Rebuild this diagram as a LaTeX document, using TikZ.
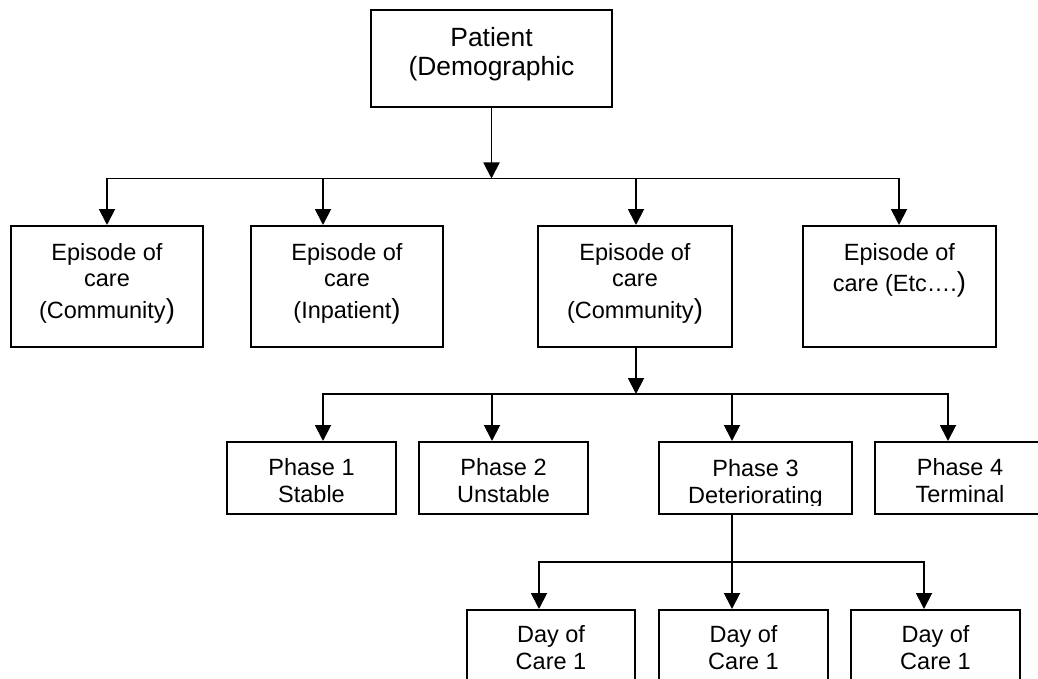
\documentclass[tikz,border=0pt]{standalone}
\usepackage{fontspec}
\setmainfont{Liberation Sans}
\usetikzlibrary{arrows.meta}
\newcommand\bigparen{{\fontsize{27.5}{27}\selectfont )}}
\newcommand\topr[1]{\rule{0pt}{#1}}
\newcommand\botr[1]{\rule[-#1]{0pt}{#1}}
\begin{document}
\begin{tikzpicture}[x=1pt,y=-1pt,
  box/.style={draw, line width=2pt, inner sep=0pt, align=center,
              font=\fontsize{23.5}{27}\selectfont},
  epbox/.style={box, minimum height=121pt},
  phbox/.style={box, minimum height=72pt},
  arr/.style={line width=1.9pt, -{Triangle[length=16pt,width=16pt]}}]
\clip (0,0) rectangle (1038,679);
\fill[white] (0,0) rectangle (1038,679);

% top
\node[box, minimum width=241pt, minimum height=97pt,
      font=\fontsize{26.4}{29}\selectfont] (pat) at (491.5,58.5)
  {\topr{19.5pt}Patient\\(Demographic\botr{13.5pt}};

% episodes
\node[epbox, minimum width=192pt] (e1) at (107,286.5)
  {\topr{18pt}Episode of\\[-1pt]care\\[5pt](Community\bigparen\botr{13pt}};
\node[epbox, minimum width=192pt] (e2) at (347,286.5)
  {\topr{18pt}Episode of\\[-1pt]care\\[5pt](Inpatient\bigparen\botr{13pt}};
\node[epbox, minimum width=194pt] (e3) at (635,286.5)
  {\topr{18pt}Episode of\\[-1pt]care\\[5pt](Community\bigparen\botr{13pt}};
\node[epbox, minimum width=193pt] (e4) at (899.5,286.5)
  {\topr{18pt}Episode of\\[4pt]care (Etc….\bigparen\\\botr{13pt}};

% phases
\node[phbox, minimum width=169pt] (p1) at (311.5,478) {\topr{23pt}Phase 1\\Stable};
\node[phbox, minimum width=169pt] (p2) at (503.5,478) {\topr{23pt}Phase 2\\Unstable};
\node[phbox, minimum width=193pt] (p3) at (755.5,478)
  {\topr{23pt}Phase 3\\\raisebox{0pt}[\height][0pt]{Deteriorating}};
\node[phbox, minimum width=170pt] (p4) at (960,478) {\topr{23pt}Phase 4\\Terminal};
% the descender of the g is cut off in the original
\fill[white] ([xshift=40pt]p3.center |- 0,506) rectangle ([xshift=80pt]p3.center |- 0,512);

% days
\node[phbox, minimum width=168pt] (d1) at (551,646) {\topr{21pt}Day of\\Care 1};
\node[phbox, minimum width=169pt] (d2) at (743.5,646) {\topr{21pt}Day of\\Care 1};
\node[phbox, minimum width=169pt] (d3) at (935.5,646) {\topr{21pt}Day of\\Care 1};

% connector points
\coordinate (bus1) at (0,178.5);
\coordinate (bus2) at (0,394);
\coordinate (bus3) at (0,562);
\coordinate (e1in) at (e1.north);
\coordinate (e2in) at ([xshift=-24pt]e2.north);
\coordinate (e3in) at ([xshift=1pt]e3.north);
\coordinate (e4in) at ([xshift=-0.5pt]e4.north);
\coordinate (e3out) at ([xshift=1pt]e3.south);
\coordinate (p1in) at ([xshift=11.5pt]p1.north);
\coordinate (p2in) at ([xshift=-11.5pt]p2.north);
\coordinate (p3in) at ([xshift=-23.5pt]p3.north);
\coordinate (p4in) at ([xshift=-12pt]p4.north);
\coordinate (p3out) at ([xshift=-23.5pt]p3.south);
\coordinate (d1in) at ([xshift=-12pt]d1.north);
\coordinate (d2in) at ([xshift=-11.5pt]d2.north);
\coordinate (d3in) at ([xshift=-11.5pt]d3.north);

% level 1
\draw[arr] (pat.south) -- (pat.south |- bus1);
\draw[arr] (pat.south |- bus1) -| (e1in);
\draw[arr] (pat.south |- bus1) -| (e4in);
\draw[arr] (e2in |- bus1) -- (e2in);
\draw[arr] (e3in |- bus1) -- (e3in);

% level 2
\draw[arr] (e3out) -- (e3out |- bus2);
\draw[arr] (e3out |- bus2) -| (p1in);
\draw[arr] (e3out |- bus2) -| (p4in);
\draw[arr] (p2in |- bus2) -- (p2in);
\draw[arr] (p3in |- bus2) -- (p3in);

% level 3
\draw[arr] (p3out) -- (d2in);
\draw[arr] (d2in |- bus3) -| (d1in);
\draw[arr] (d2in |- bus3) -| (d3in);
\end{tikzpicture}
\end{document}
